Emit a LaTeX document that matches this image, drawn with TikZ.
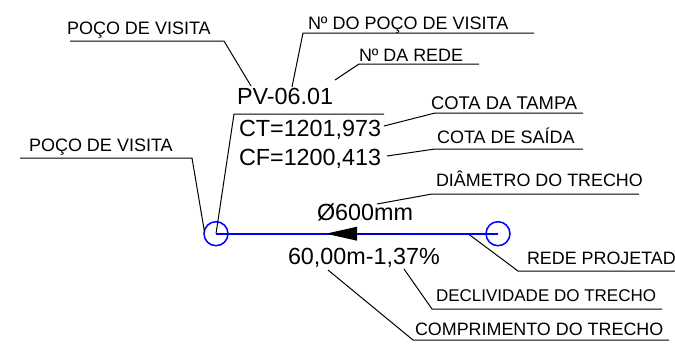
\documentclass[tikz,border=0pt]{standalone}
\usepackage{fontspec}
\usetikzlibrary{calc}
\setmainfont{Liberation Sans}
\definecolor{pureblue}{RGB}{0,0,255}
\definecolor{deepblue}{RGB}{0,0,190}
\tikzset{
  x=1pt,y=-1pt,
  lab/.style={inner sep=0pt,outer sep=0pt,anchor=base west,text=black,font=\fontsize{#1}{20}\selectfont},
  lab/.default=17.9,
  big/.style={lab=23.35},
  leader/.style={draw=black,line width=1pt,line join=miter},
  pipeline/.style={draw=pureblue,line width=1.6pt},
  well/.style={draw=pureblue,line width=1.5pt}
}
\begin{document}
\begin{tikzpicture}
\useasboundingbox (0,0) rectangle (675,343);
\fill[white] (0,0) rectangle (675,343);
% texts
\node[lab=18] (tpv) at (67,34) {POÇO DE VISITA};
\node[lab=18] (tpvb) at (29,151) {POÇO DE VISITA};
\node[lab=18] (tnpv) at (308,29) {Nº DO POÇO DE VISITA};
\node[lab] (tnr) at (359,61) {Nº DA REDE};
\node[lab=18.4] (tct) at (431,109) {COTA DA TAMPA};
\node[lab=18] (tcs) at (437,143) {COTA DE SAÍDA};
\node[lab] (tdt) at (436,186) {DIÂMETRO DO TRECHO};
\node[lab] (trp) at (527,264) {REDE PROJETAD};
\node[lab=17] (tdc) at (436,301) {DECLIVIDADE DO TRECHO};
\node[lab] (tcp) at (415,335) {COMPRIMENTO DO TRECHO};
\node[big] (pv) at (237,104) {PV-06.01};
\node[big] (ct) at (239,136) {CT=1201,973};
\node[big] (cf) at (239,165) {CF=1200,413};
\node[big] (dn) at (317,220) {Ø600mm};
\node[big] (ln) at (288,264) {60,00m-1,37\%};
% wells
\coordinate (wa) at (216,233.7);
\coordinate (wb) at (498,233.7);
\node[well,circle,minimum size=24pt,inner sep=0pt] (ca) at (wa) {};
\node[well,circle,minimum size=24pt,inner sep=0pt] (cb) at (wb) {};
% leaders
\coordinate (a1) at (70,41); \coordinate (a2) at (224,41); \coordinate (a3) at (251,86);
\draw[leader] (a1) -- (a2) -- (a3);
\coordinate (b1) at (20,158); \coordinate (b2) at (192,158); \coordinate (b3) at (204.5,232);
\draw[leader] (b1) -- (b2) -- (b3);
\coordinate (c1) at (534,33); \coordinate (c2) at (303,33); \coordinate (c3) at (292,87);
\draw[leader] (c1) -- (c2) -- (c3);
\coordinate (d1) at (479,64); \coordinate (d2) at (359,64); \coordinate (d3) at (335,80);
\draw[leader] (d1) -- (d2) -- (d3);
\coordinate (e1) at (384,114); \coordinate (e2) at (234,114);
\draw[leader] (e1) -- (e2) -- (wa);
\coordinate (f1) at (384,126); \coordinate (f2) at (435,113); \coordinate (f3) at (583,113);
\draw[leader] (f1) -- (f2) -- (f3);
\coordinate (g1) at (387,156); \coordinate (g2) at (435,149); \coordinate (g3) at (583,149);
\draw[leader] (g1) -- (g2) -- (g3);
\coordinate (h1) at (377,204); \coordinate (h2) at (432,194); \coordinate (h3) at (639,194);
\draw[leader] (h1) -- (h2) -- (h3);
\coordinate (i1) at (468,233.7); \coordinate (i2) at (518,271); \coordinate (i3) at (675,271);
\draw[leader] (i1) -- (i2) -- (i3);
\coordinate (j1) at (404,269); \coordinate (j2) at (432,309); \coordinate (j3) at (662,309);
\draw[leader] (j1) -- (j2) -- (j3);
\coordinate (k1) at (328,270); \coordinate (k2) at (413,340); \coordinate (k3) at (669,340);
\draw[leader] (k1) -- (k2) -- (k3);
% pipe
\path[pipeline] (wb) -- (wa);
\coordinate (at) at (326,233.7); \coordinate (ab) at (357,233.7); \coordinate (ae) at (402,233.7);
\fill[black] (at) -- ($(ab)+(0,-7)$) -- ($(ab)+(0,7)$) -- cycle;
\path[draw=deepblue,line width=1.6pt] (ab) -- (ae);
\end{tikzpicture}
\end{document}
